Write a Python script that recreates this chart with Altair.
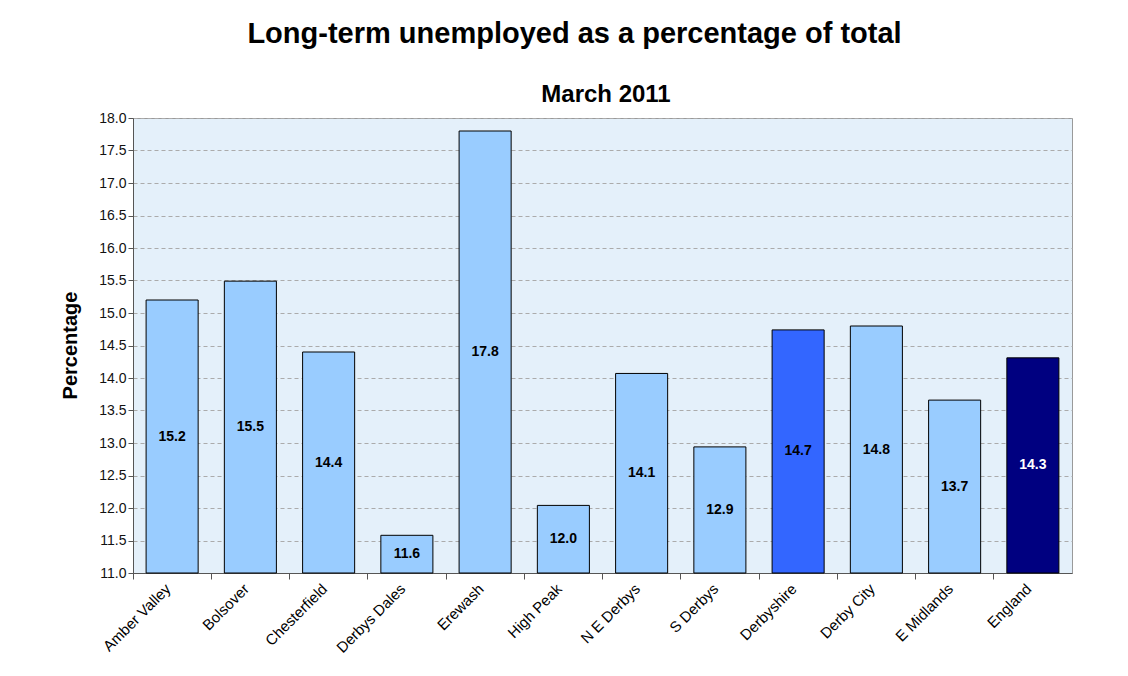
import altair as alt
import pandas as pd

regions = ["Amber Valley", "Bolsover", "Chesterfield", "Derbys Dales", "Erewash",
           "High Peak", "N E Derbys", "S Derbys", "Derbyshire", "Derby City",
           "E Midlands", "England"]
values = [15.2, 15.49, 14.4, 11.58, 17.8, 12.04, 14.07, 12.94, 14.74, 14.8, 13.66, 14.31]
bar_colors = ["#99CCFF"] * 8 + ["#3366FF", "#99CCFF", "#99CCFF", "#000080"]
label_colors = ["#000000"] * 11 + ["#FFFFFF"]
y_ticks = [11.0 + 0.5 * i for i in range(15)]

df = pd.DataFrame({"region": regions, "value": values,
                   "bar_color": bar_colors, "label_color": label_colors})
df["base"] = 11.0

FONT = "Liberation Sans"

x_scale = alt.Scale(paddingInner=0.335, paddingOuter=0.1675)
x_axis = alt.Axis(labelAngle=-45, labelAlign="right", labelBaseline="middle",
                  labelFont=FONT, labelFontSize=15, labelColor="#000000",
                  bandPosition=-0.25, labelOffset=-4, labelPadding=7,
                  tickSize=6, tickColor="#555555", domainColor="#555555",
                  grid=False, title=None)

y_scale = alt.Scale(domain=[11, 18], zero=False, nice=False)
y_axis = alt.Axis(values=y_ticks, format=".1f", labelFont=FONT, labelFontSize=14,
                  labelColor="#111111", labelOverlap=False, labelFlush=False,
                  tickSize=5, tickColor="#555555",
                  domainColor="#555555", grid=True, gridDash=[4, 3],
                  gridColor="#ABABAB", title="Percentage", titleFont=FONT, titleFontSize=20,
                  titleFontWeight="bold", titleColor="#000000",
                  titleX=-53, titleY=227, titleAngle=-90)

bars = alt.Chart(df).mark_bar(stroke="#000000", strokeWidth=1).encode(
    x=alt.X("region:N", sort=regions, scale=x_scale, axis=x_axis),
    y=alt.Y("value:Q", scale=y_scale, axis=y_axis),
    y2="base:Q",
    color=alt.Color("bar_color:N", scale=None),
)

labels = alt.Chart(df).transform_calculate(
    mid="(datum.value + datum.base) / 2",
    txt="format(datum.value, '.1f')"
).mark_text(font=FONT, fontSize=14, fontWeight="bold").encode(
    x=alt.X("region:N", sort=regions, scale=x_scale, axis=x_axis),
    y=alt.Y("mid:Q", scale=y_scale, axis=y_axis),
    text="txt:N",
    color=alt.Color("label_color:N", scale=None),
)

subtitle = alt.Chart(df.head(1)).mark_text(
    font=FONT, fontSize=24, fontWeight="bold", color="#000000", baseline="alphabetic"
).encode(x=alt.value(473), y=alt.value(-16), text=alt.value("March 2011"))

chart = alt.layer(bars, labels, subtitle).properties(
    width=939, height=455,
    autosize=alt.AutoSizeParams(type="none"),
    padding={"left": 133, "top": 118, "right": 56, "bottom": 103},
    title=alt.Title("Long-term unemployed as a percentage of total", font=FONT,
                    fontSize=29, fontWeight="bold", color="#000000", anchor="middle",
                    dx=-28, offset=34),
    background="#FFFFFF",
).configure_view(fill="#E4F0FA", stroke="#9A9A9A", strokeWidth=1)

chart.save("out.html", embed_options={"renderer": "svg", "actions": False})
